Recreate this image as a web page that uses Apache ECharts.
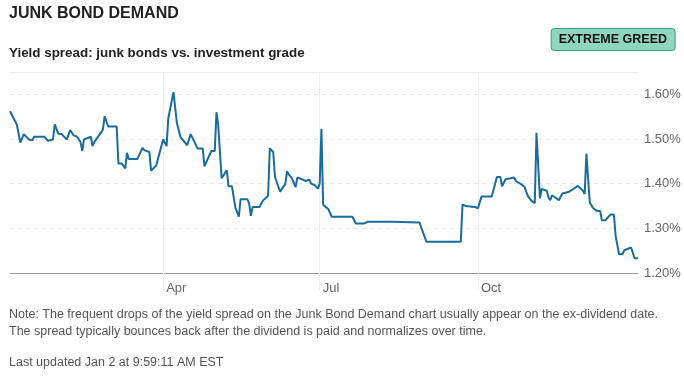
<!DOCTYPE html>
<html>
<head>
<meta charset="utf-8">
<script src="https://cdn.jsdelivr.net/npm/echarts@6/dist/echarts.min.js"></script>
<style>
  html, body { margin: 0; padding: 0; background: #fff; }
  #chart { width: 684px; height: 376px; }
</style>
</head>
<body>
<div id="chart"></div>
<script>
// day offset from Jan 1 2023, and the junk bond yield spread (%)
const days = [
  1, 5, 7, 9, 12, 14, 15, 21, 23, 26, 27, 29, 31, 34, 36, 38, 40, 42, 43, 44,
  48, 49, 50, 55, 56, 58, 63, 64, 66, 68, 69, 70, 75, 78, 79, 82, 83, 86, 90, 92,
  93, 96, 97, 98, 100, 104, 106, 110, 113, 114, 118, 120, 121, 122, 124, 125, 127, 128, 130, 132,
  134, 135, 139, 140, 141, 142, 146, 148, 151, 152, 154, 155, 158, 160, 161, 162, 163, 165, 167, 168,
  173, 175, 176, 178, 180, 181, 182, 183, 184, 186, 188, 200, 202, 207, 209, 223, 224, 239, 243, 263,
  264, 266, 271, 272, 273, 275, 281, 284, 286, 287, 289, 292, 294, 295, 298, 300, 302, 304, 306, 307,
  309, 310, 313, 314, 315, 316, 318, 320, 322, 323, 326, 328, 331, 334, 335, 336, 337, 338, 340, 342,
  344, 345, 347, 348, 350, 352, 353, 355, 357, 358, 362, 363, 364, 366
];
const spread = [
  1.562, 1.532, 1.492, 1.511, 1.499, 1.497, 1.505, 1.505, 1.496, 1.499, 1.533, 1.512, 1.511, 1.499, 1.520, 1.508, 1.505, 1.493, 1.473, 1.499,
  1.505, 1.484, 1.493, 1.521, 1.551, 1.528, 1.528, 1.445, 1.445, 1.434, 1.469, 1.455, 1.455, 1.480, 1.475, 1.471, 1.429, 1.441, 1.499, 1.484,
  1.546, 1.605, 1.605, 1.536, 1.505, 1.486, 1.511, 1.479, 1.479, 1.439, 1.473, 1.473, 1.560, 1.531, 1.412, 1.413, 1.430, 1.394, 1.394, 1.346,
  1.326, 1.365, 1.365, 1.356, 1.328, 1.348, 1.348, 1.362, 1.373, 1.479, 1.471, 1.415, 1.382, 1.394, 1.399, 1.428, 1.421, 1.411, 1.392, 1.414,
  1.406, 1.409, 1.400, 1.397, 1.389, 1.400, 1.523, 1.353, 1.350, 1.343, 1.326, 1.326, 1.311, 1.311, 1.315, 1.315, 1.313, 1.313, 1.270, 1.270,
  1.353, 1.350, 1.348, 1.345, 1.345, 1.371, 1.371, 1.415, 1.415, 1.394, 1.410, 1.412, 1.414, 1.406, 1.399, 1.393, 1.372, 1.362, 1.356, 1.514,
  1.367, 1.388, 1.384, 1.369, 1.363, 1.374, 1.369, 1.363, 1.378, 1.374, 1.382, 1.387, 1.395, 1.384, 1.377, 1.467, 1.465, 1.357, 1.345, 1.339,
  1.339, 1.318, 1.318, 1.322, 1.331, 1.331, 1.283, 1.242, 1.242, 1.251, 1.257, 1.259, 1.233, 1.233
];
const monthTicks = [90, 181, 273];
const monthLabels = ['Apr', 'Jul', 'Oct'];

const sans = '"Liberation Sans", Arial, sans-serif';

const chart = echarts.init(document.getElementById('chart'));

chart.setOption({
  animation: false,
  title: [
    {
      text: 'JUNK BOND DEMAND',
      left: 9, top: 6, padding: 0,
      textStyle: { fontFamily: sans, fontSize: 16, fontWeight: 'bold', color: '#222' }
    },
    {
      text: 'Yield spread: junk bonds vs. investment grade',
      left: 9, top: 47, padding: 0,
      textStyle: { fontFamily: sans, fontSize: 13.4, fontWeight: 'bold', color: '#222' }
    },
    {
      text: 'EXTREME GREED',
      right: 9, top: 28,
      padding: [5, 8, 5, 8],
      backgroundColor: '#8fd6bf',
      borderColor: '#3f9e7c',
      borderWidth: 1,
      borderRadius: 3,
      textStyle: { fontFamily: sans, fontSize: 12.5, fontWeight: 'bold', color: '#111' }
    },
    {
      text: 'Note: The frequent drops of the yield spread on the Junk Bond Demand chart usually appear on the ex-dividend date.\nThe spread typically bounces back after the dividend is paid and normalizes over time.',
      left: 9, top: 306, padding: 0,
      textStyle: { fontFamily: sans, fontSize: 12.5, fontWeight: 'normal', color: '#555', lineHeight: 17 }
    },
    {
      text: 'Last updated Jan 2 at 9:59:11 AM EST',
      left: 9, top: 356, padding: 0,
      textStyle: { fontFamily: sans, fontSize: 12.5, fontWeight: 'normal', color: '#555' }
    }
  ],
  grid: { left: 10, right: 46, top: 72, bottom: 103 },
  xAxis: [
    {
      type: 'value',
      min: 1,
      max: 366,
      axisLine: { lineStyle: { color: '#999', width: 1 } },
      axisTick: {
        show: true,
        customValues: monthTicks,
        length: 17,
        lineStyle: { color: '#eee' }
      },
      axisLabel: {
        customValues: monthTicks,
        formatter: v => monthLabels[monthTicks.indexOf(v)] || '',
        align: 'left',
        padding: [0, 0, 0, 3],
        margin: 9,
        fontFamily: sans,
        fontSize: 13,
        color: '#666'
      },
      splitLine: { show: true, lineStyle: { color: '#eee', width: 1 } }
    },
    {
      type: 'value',
      position: 'top',
      min: 1,
      max: 366,
      axisLine: { show: true, lineStyle: { color: '#eee' } },
      axisTick: { show: false },
      axisLabel: { show: false },
      splitLine: { show: false }
    }
  ],
  yAxis: {
    type: 'value',
    position: 'right',
    min: 1.2,
    max: 1.65,
    interval: 0.1,
    axisLine: { show: false },
    axisTick: { show: false },
    axisLabel: {
      margin: 6,
      fontFamily: sans,
      fontSize: 13,
      color: '#666',
      formatter: v => (v > 1.605 ? '' : v.toFixed(2) + '%')
    },
    splitLine: { lineStyle: { color: '#e6e6e6', type: [4, 4] } }
  },
  series: [
    {
      type: 'line',
      xAxisIndex: 0,
      data: days.map((d, i) => [d, spread[i]]),
      showSymbol: false,
      lineStyle: { color: '#1a6c9c', width: 2 },
      itemStyle: { color: '#1a6c9c' }
    }
  ]
});
</script>
</body>
</html>
